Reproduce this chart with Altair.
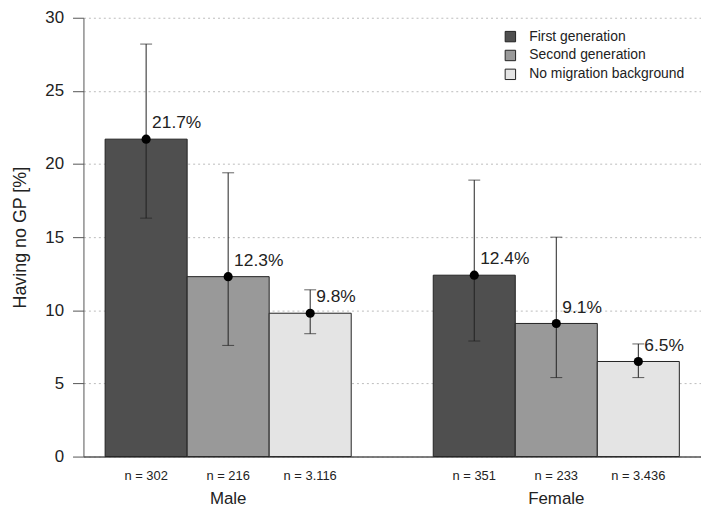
import altair as alt
import pandas as pd

groups = ["Male", "Male", "Male", "Female", "Female", "Female"]
categories = ["First generation", "Second generation", "No migration background"] * 2
values = [21.7, 12.3, 9.8, 12.4, 9.1, 6.5]
lower = [16.3, 7.6, 8.4, 7.9, 5.4, 5.4]
upper = [28.2, 19.4, 11.4, 18.9, 15.0, 7.7]
n_labels = ["n = 302", "n = 216", "n = 3.116", "n = 351", "n = 233", "n = 3.436"]

cat_order = ["First generation", "Second generation", "No migration background"]
group_order = ["Male", "Female"]
colors = ["#4f4f4f", "#999999", "#e4e4e4"]

df = pd.DataFrame({
    "group": groups, "category": categories, "value": values,
    "lower": lower, "upper": upper, "n": n_labels,
})

FONT = "Liberation Sans"
W, H = 622, 442

x_enc = alt.X("group:N", sort=group_order,
              scale=alt.Scale(paddingInner=0.25, paddingOuter=0.066),
              axis=alt.Axis(title=None, ticks=False, labelFontSize=17, labelPadding=34,
                            labelAngle=0, domainColor="#555555", domainWidth=1.5,
                            labelColor="#222222", labelFont=FONT))
xo_enc = alt.XOffset("category:N", sort=cat_order,
                     scale=alt.Scale(paddingInner=0, paddingOuter=0))
y_scale = alt.Scale(domain=[0, 30], nice=False)

base = alt.Chart(df).encode(x=x_enc, xOffset=xo_enc)

bars = base.mark_bar(stroke="#222222", strokeWidth=1).encode(
    y=alt.Y("value:Q", scale=y_scale,
            axis=alt.Axis(title="Having no GP [%]", values=[0, 5, 10, 15, 20, 25, 30],
                          grid=True, gridDash=[2, 3], gridColor="#bbbbbb",
                          tickSize=11, tickColor="#555555", domainColor="#555555",
                          labelFontSize=17, labelPadding=9, labelColor="#222222",
                          titleFontSize=18, titleFontWeight="normal", titlePadding=15,
                          titleColor="#222222", labelFont=FONT, titleFont=FONT)),
    color=alt.Color("category:N", sort=cat_order,
                    scale=alt.Scale(domain=cat_order, range=colors),
                    legend=alt.Legend(title=None, orient="none", legendX=423, legendY=12,
                                      symbolType="square", symbolSize=110,
                                      symbolStrokeColor="#222222", symbolStrokeWidth=1,
                                      labelFontSize=14, labelFont=FONT, labelColor="#222222",
                                      labelOffset=12, rowPadding=3, symbolOpacity=1)),
)

rules = base.mark_rule(color="#222222", strokeWidth=1).encode(
    y=alt.Y("lower:Q", scale=y_scale), y2="upper:Q")
cap_top = base.mark_tick(color="#222222", thickness=1, size=12, orient="horizontal").encode(
    y=alt.Y("upper:Q", scale=y_scale))
cap_bot = base.mark_tick(color="#222222", thickness=1, size=12, orient="horizontal").encode(
    y=alt.Y("lower:Q", scale=y_scale))
points = base.mark_circle(color="#000000", size=85, opacity=1).encode(
    y=alt.Y("value:Q", scale=y_scale))
vlabels = base.transform_calculate(
    lab="format(datum.value, '.1f') + '%'"
).mark_text(align="left", baseline="bottom", dx=6, dy=-7, fontSize=17.5,
            font=FONT, color="#222222").encode(
    y=alt.Y("value:Q", scale=y_scale), text="lab:N")
nlabels = base.mark_text(baseline="middle", fontSize=13, font=FONT, color="#222222").encode(
    y=alt.value(H + 20), text="n:N")

chart = alt.layer(bars, rules, cap_top, cap_bot, points, vlabels, nlabels).properties(
    width=W, height=H,
    autosize=alt.AutoSizeParams(type="none"),
    padding={"left": 76, "top": 8, "right": 0, "bottom": 52},
).configure_view(stroke=None)

chart.save("out.html", embed_options={"renderer": "svg", "actions": False})
